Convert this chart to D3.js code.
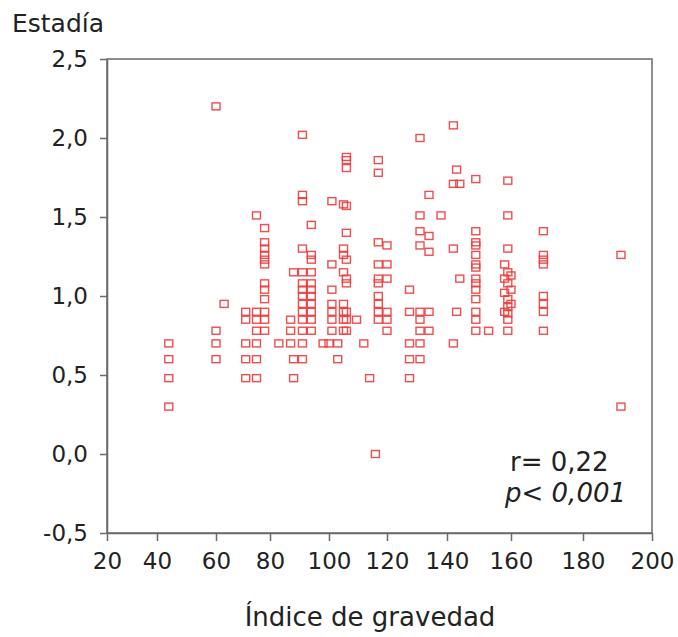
<!DOCTYPE html>
<html>
<head>
<meta charset="utf-8">
<script src="https://cdn.jsdelivr.net/npm/d3@7"></script>
<style>
  body { margin: 0; background: #fff; }
  svg text { font-family: "DejaVu Sans", Verdana, sans-serif; fill: #222; }
</style>
</head>
<body>
<div id="chart"></div>
<script>
    // datos: índice de gravedad vs estadía (log días)
    var gravedad = [
      44,44,44,44,
      60,60,60,60, 63,
      71,71,71,71,71,
      75,75,75,75,75,75,75,
      78,78,78,78,78,78,78,78,78,78,78,78,
      83, 87,87,87, 88,88,88,
      91,91,91,91,91,91,91,91,91,91,91,91,91,91,
      94,94,94,94,94,94,94,94,94,94,94,
      98, 100,
      101,101,101,101,101,101,101,
      103,103,
      105,105,105,105,105,105,105,105,
      106,106,106,106,106,106,106,106,106,106,106,
      109.5, 112, 114, 116,
      117,117,117,117,117,117,117,117,117,117,
      120,120,120,120,120,120,
      127.5,127.5,127.5,127.5,127.5,
      131,131,131,131,131,131,131,131,131,
      134,134,134,134,134,
      138,
      142,142,142,142, 143,143, 144,144,
      149,149,149,149,149,149,149,149,149,149,149,149,149,149,
      153,
      159,159,159,158,159,160,158,159,160,158,159,160,159,158,159,159,159,
      169,169,169,169,169,169,169,169,
      191,191
    ];
    var estadia = [
      0.70,0.60,0.48,0.30,
      2.20,0.78,0.70,0.60, 0.95,
      0.90,0.85,0.70,0.60,0.48,
      1.51,0.90,0.85,0.78,0.70,0.60,0.48,
      1.43,1.34,1.30,1.26,1.23,1.20,1.08,1.04,0.98,0.90,0.85,0.78,
      0.70, 0.85,0.78,0.70, 1.15,0.60,0.48,
      2.02,1.64,1.60,1.30,1.15,1.08,1.04,1.00,0.95,0.90,0.85,0.78,0.70,0.60,
      1.45,1.26,1.23,1.15,1.08,1.04,1.00,0.95,0.90,0.85,0.78,
      0.70, 0.70,
      1.60,1.20,1.04,0.95,0.90,0.85,0.78,
      0.70,0.60,
      1.58,1.30,1.26,1.15,0.95,0.90,0.85,0.78,
      1.88,1.86,1.81,1.57,1.40,1.23,1.11,1.08,0.90,0.85,0.78,
      0.85, 0.70, 0.48, 0.00,
      1.86,1.78,1.34,1.20,1.11,1.08,1.00,0.95,0.90,0.85,
      1.32,1.20,1.11,0.90,0.85,0.78,
      1.04,0.90,0.70,0.60,0.48,
      2.00,1.51,1.41,1.32,0.90,0.85,0.78,0.70,0.60,
      1.64,1.38,1.28,0.90,0.78,
      1.51,
      2.08,1.71,1.30,0.70, 1.80,0.90, 1.71,1.11,
      1.74,1.41,1.34,1.32,1.26,1.20,1.18,1.11,1.08,1.04,0.98,0.90,0.85,0.78,
      0.78,
      1.73,1.51,1.30,1.20,1.15,1.13,1.11,1.08,1.04,1.02,0.98,0.95,0.93,0.90,0.89,0.85,0.78,
      1.41,1.26,1.23,1.20,1.00,0.95,0.90,0.78,
      1.26,0.30
    ];
    var xTicks = [20, 40, 60, 80, 100, 120, 140, 160, 180, 200];
    var yTicks = [-0.5, 0, 0.5, 1.0, 1.5, 2.0, 2.5];

    var width = 678, height = 637;
    var mLeft = 107, mRight = 652, mTop = 59, mBottom = 533;

    var svg = d3.select("#chart").append("svg").attr("width", width).attr("height", height);

    // el eje x del original no es regular, se usa una escala por tramos
    var x = d3.scaleLinear().domain(xTicks)
      .range([107, 157, 216, 270, 329, 387, 447, 511, 583, 652]);
    var y = d3.scaleLinear().domain([-0.5, 2.5]).range([mBottom, mTop]);

    var es = d3.formatLocale({decimal: ",", thousands: ".", grouping: [3], currency: ["", "€"], minus: "-"});
    var fmt = es.format(".1f");

    // marco
    svg.append("rect")
      .attr("x", mLeft).attr("y", mTop)
      .attr("width", mRight - mLeft).attr("height", mBottom - mTop)
      .style("fill", "none").style("stroke", "#6a6a6a").style("stroke-width", 1.5);

    var yAxis = svg.append("g").attr("transform", "translate(" + mLeft + ",0)")
      .call(d3.axisLeft(y).tickValues(yTicks).tickFormat(fmt).tickSize(7).tickPadding(12).tickSizeOuter(0));
    var xAxis = svg.append("g").attr("transform", "translate(0," + mBottom + ")")
      .call(d3.axisBottom(x).tickValues(xTicks).tickSize(8).tickPadding(12).tickSizeOuter(0));

    [yAxis, xAxis].forEach(function(g) {
      g.select(".domain").style("stroke", "#6a6a6a").style("stroke-width", 1.5);
      g.selectAll(".tick line").style("stroke", "#6a6a6a").style("stroke-width", 1.5);
      g.selectAll(".tick text").style("font-size", "23px").style("fill", "#222")
        .style("font-family", "'DejaVu Sans', Verdana, sans-serif");
    });

    // puntos
    svg.append("g").selectAll("rect")
      .data(gravedad).enter().append("rect")
      .attr("x", function(d) { return x(d) - 4; })
      .attr("y", function(d, i) { return y(estadia[i]) - 3.5; })
      .attr("width", 8).attr("height", 7)
      .style("fill", "none").style("stroke", "#f03a3a").style("stroke-width", 1.4)
      .style("opacity", 0.9);

    svg.append("text").attr("x", 12).attr("y", 32)
      .style("font-size", "25px").text("Estadía");

    svg.append("text").attr("x", 370).attr("y", 626)
      .style("font-size", "26px").style("text-anchor", "middle").text("Índice de gravedad");

    svg.append("text").attr("x", 510).attr("y", 471)
      .style("font-size", "26px").text("r= 0,22");
    var pText = svg.append("text").attr("x", 505).attr("y", 502).style("font-size", "26px");
    pText.append("tspan").style("font-style", "italic").text("p");
    pText.append("tspan").text("< ");
    pText.append("tspan").style("font-style", "italic").text("0,001");
</script>
</body>
</html>
